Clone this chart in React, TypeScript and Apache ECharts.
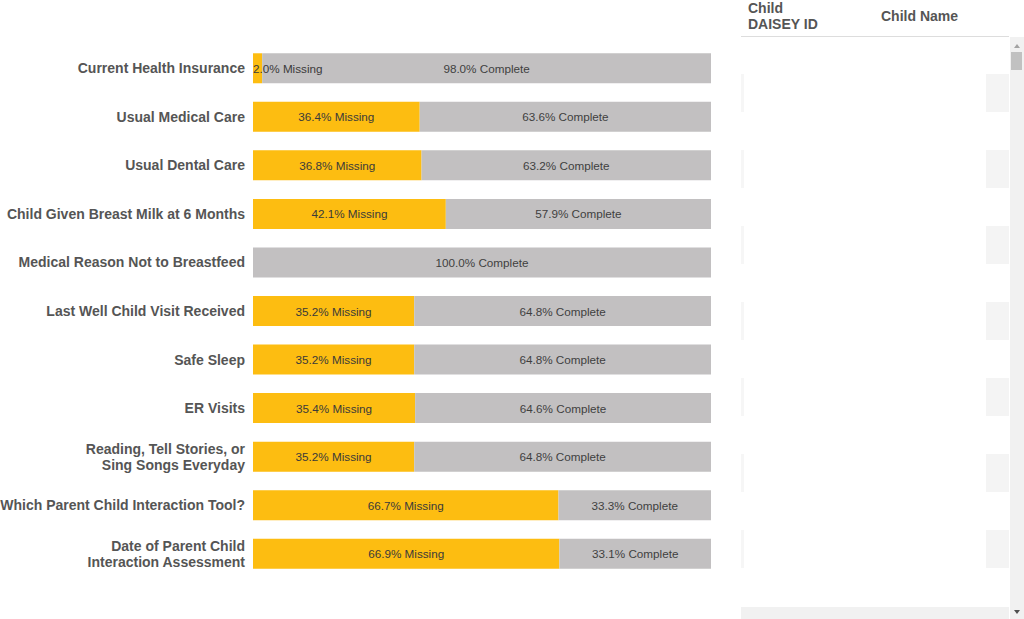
import React, { useEffect, useRef } from "react";
import * as echarts from "echarts";

const categories = [
  "Current Health Insurance",
  "Usual Medical Care",
  "Usual Dental Care",
  "Child Given Breast Milk at 6 Months",
  "Medical Reason Not to Breastfeed",
  "Last Well Child Visit Received",
  "Safe Sleep",
  "ER Visits",
  "Reading, Tell Stories, or\nSing Songs Everyday",
  "Which Parent Child Interaction Tool?",
  "Date of Parent Child\nInteraction Assessment",
];
const missing = [2.0, 36.4, 36.8, 42.1, 0, 35.2, 35.2, 35.4, 35.2, 66.7, 66.9];
const complete = [98.0, 63.6, 63.2, 57.9, 100.0, 64.8, 64.8, 64.6, 64.8, 33.3, 33.1];
const tableHeaders = ["Child\nDAISEY ID", "Child Name"];

export default function App() {
  const ref = useRef<HTMLDivElement>(null);
  useEffect(() => {
    if (!ref.current) return;
    const chart = echarts.init(ref.current, undefined, { renderer: "svg" });
    const font = "Arial, 'Liberation Sans', sans-serif";
    const stripeGraphics: any[] = [];
    for (let i = 0; i < 7; i++) {
      const y = 74 + i * 76;
      stripeGraphics.push({
        type: "rect",
        shape: { x: 741, y, width: 3, height: 38 },
        style: { fill: "#f6f6f6" },
        silent: true,
      });
      stripeGraphics.push({
        type: "rect",
        shape: { x: 986, y, width: 23, height: 38 },
        style: { fill: "#f4f4f4" },
        silent: true,
      });
    }
    chart.setOption({
      animation: false,
      grid: {
        left: 253,
        right: 313,
        top: 44,
        bottom: 41,
        containLabel: false,
        outerBoundsMode: "none",
      },
      xAxis: {
        type: "value",
        min: 0,
        max: 100,
        show: false,
      },
      yAxis: {
        type: "category",
        data: categories,
        inverse: true,
        axisLine: { show: false },
        axisTick: { show: false },
        splitLine: { show: false },
        axisLabel: {
          margin: 8,
          color: "#555555",
          fontFamily: font,
          fontWeight: "bold",
          fontSize: 14,
          lineHeight: 16,
          align: "right",
        },
      },
      series: [
        {
          name: "Missing",
          type: "bar",
          stack: "total",
          barWidth: 30,
          itemStyle: { color: "#FDBD11" },
          data: missing.map((v) => ({
            value: v,
            label:
              v > 0 && v < 10
                ? { position: "insideLeft", distance: 0 }
                : undefined,
          })),
          label: {
            show: true,
            position: "inside",
            color: "#3a3a3a",
            fontFamily: font,
            fontSize: 11.7,
            formatter: (p: any) => (p.value > 0 ? p.value.toFixed(1) + "% Missing" : ""),
          },
        },
        {
          name: "Complete",
          type: "bar",
          stack: "total",
          barWidth: 30,
          itemStyle: { color: "#C2C0C1" },
          data: complete,
          label: {
            show: true,
            position: "inside",
            color: "#3f3f3f",
            fontFamily: font,
            fontSize: 11.7,
            formatter: (p: any) => (p.value > 0 ? p.value.toFixed(1) + "% Complete" : ""),
          },
        },
      ],
      graphic: [
        ...stripeGraphics,
        {
          type: "text",
          left: 748,
          top: 0,
          style: {
            text: tableHeaders[0],
            fill: "#555555",
            font: "bold 14px " + font,
            lineHeight: 16,
          },
        },
        {
          type: "text",
          left: 881,
          top: 8,
          style: {
            text: tableHeaders[1],
            fill: "#555555",
            font: "bold 14px " + font,
            lineHeight: 16,
          },
        },
        {
          type: "line",
          shape: { x1: 741, y1: 36.5, x2: 1009, y2: 36.5 },
          style: { stroke: "#dddddd", lineWidth: 1 },
          silent: true,
        },
        {
          type: "rect",
          shape: { x: 1010, y: 37, width: 14, height: 582 },
          style: { fill: "#f1f1f1" },
          silent: true,
        },
        {
          type: "polygon",
          shape: { points: [[1014, 48], [1020, 48], [1017, 44]] },
          style: { fill: "#a3a3a3" },
          silent: true,
        },
        {
          type: "rect",
          shape: { x: 1011, y: 52, width: 11, height: 18 },
          style: { fill: "#c1c1c1" },
          silent: true,
        },
        {
          type: "polygon",
          shape: { points: [[1014, 610], [1020, 610], [1017, 614]] },
          style: { fill: "#505050" },
          silent: true,
        },
        {
          type: "rect",
          shape: { x: 741, y: 607, width: 268, height: 12 },
          style: { fill: "#f1f1f1" },
          silent: true,
        },
      ],
    });
    return () => chart.dispose();
  }, []);
  return (
    <div
      ref={ref}
      style={{ position: "fixed", left: 0, top: 0, width: 1024, height: 619, background: "#fff" }}
    />
  );
}
